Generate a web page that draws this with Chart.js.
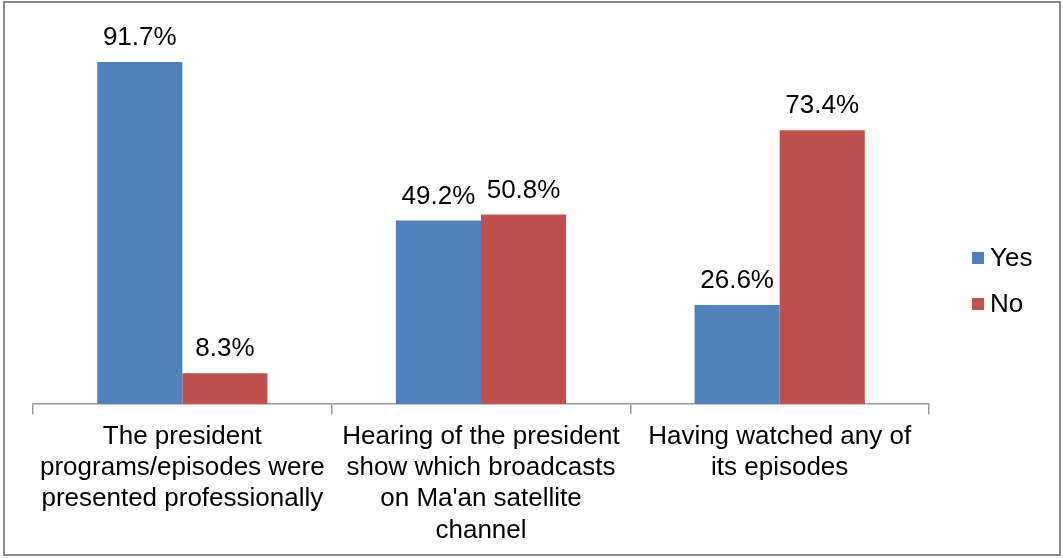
<!DOCTYPE html>
<html>
<head>
<meta charset="utf-8">
<script src="https://cdn.jsdelivr.net/npm/chart.js@4"></script>
<style>
  html, body { margin: 0; padding: 0; background: #fff; }
  #wrap { width: 1063px; height: 558px; }
</style>
</head>
<body>
<div id="wrap"><canvas id="bar-chart" width="1063" height="558"></canvas></div>
<script>
const categories = [
  ["The president", "programs/episodes were", "presented professionally"],
  ["Hearing of the president", "show which broadcasts", "on Ma'an satellite", "channel"],
  ["Having watched any of", "its episodes"]
];
const yesValues = [91.7, 49.2, 26.6];
const noValues = [8.3, 50.8, 73.4];
const seriesNames = ["Yes", "No"];

const FONT = "'Liberation Sans', Arial, sans-serif";

// value labels above each bar
const valueLabels = {
  id: 'valueLabels',
  afterDatasetsDraw(chart) {
    const ctx = chart.ctx;
    ctx.save();
    ctx.font = "26px " + FONT;
    ctx.fillStyle = "#000";
    ctx.textAlign = "center";
    ctx.textBaseline = "alphabetic";
    chart.data.datasets.forEach((ds, i) => {
      chart.getDatasetMeta(i).data.forEach((bar, j) => {
        ctx.fillText(ds.data[j].toFixed(1) + "%", bar.x, bar.y - 17);
      });
    });
    ctx.restore();
  }
};

// legend on the right + outer frame
const sideLegend = {
  id: 'sideLegend',
  afterDraw(chart) {
    const ctx = chart.ctx;
    ctx.save();
    ctx.strokeStyle = "#8a8a8a";
    ctx.lineWidth = 2;
    ctx.strokeRect(4, 2, 1056, 553);
    ctx.font = "26px " + FONT;
    ctx.textBaseline = "middle";
    ctx.textAlign = "left";
    chart.data.datasets.forEach((ds, i) => {
      const cy = 258 + i * 46;
      ctx.fillStyle = ds.backgroundColor;
      ctx.fillRect(972, cy - 6, 12, 12);
      ctx.fillStyle = "#000";
      ctx.fillText(ds.label, 990, cy + 1);
    });
    ctx.restore();
  }
};

document.addEventListener("DOMContentLoaded", function () {
  let ctx = document.getElementById('bar-chart');
  new Chart(ctx, {
    type: 'bar',
    data: {
      labels: categories,
      datasets: [
        { label: seriesNames[0], backgroundColor: "#4F81BD", data: yesValues },
        { label: seriesNames[1], backgroundColor: "#C0504D", data: noValues }
      ]
    },
    options: {
      responsive: false,
      animation: false,
      categoryPercentage: 0.57,
      barPercentage: 1,
      layout: { padding: { top: 31, left: 33, right: 134, bottom: 5 } },
      plugins: {
        legend: { display: false },
        tooltip: { enabled: false }
      },
      scales: {
        y: { display: false, min: 0, max: 100 },
        x: {
          grid: { display: true, drawOnChartArea: false, drawTicks: true, tickLength: 10, color: "#999", lineWidth: 1.5 },
          border: { display: true, color: "#999", width: 1.5 },
          ticks: {
            color: "#000",
            font: { family: FONT, size: 26 },
            padding: 7,
            maxRotation: 0,
            autoSkip: false
          }
        }
      }
    },
    plugins: [valueLabels, sideLegend]
  });
});
</script>
</body>
</html>
